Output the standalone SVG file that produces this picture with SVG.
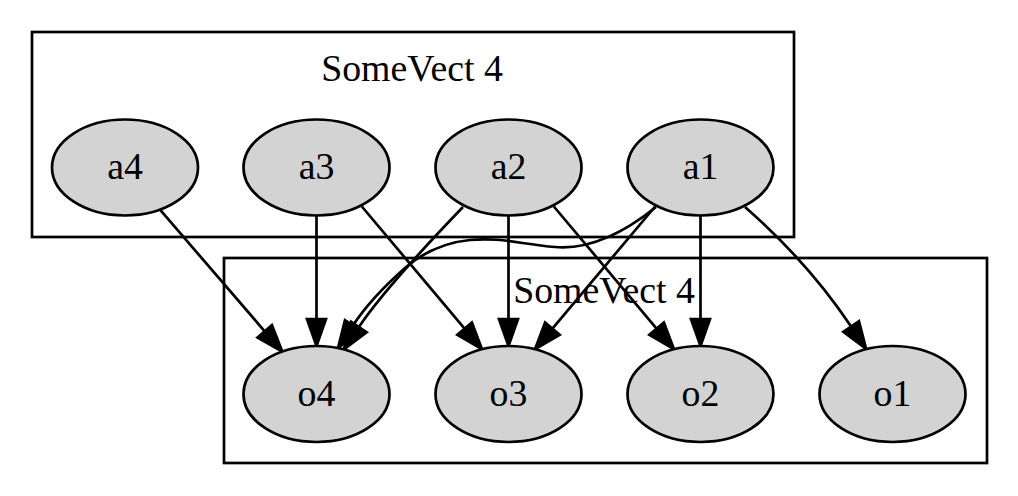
<svg xmlns="http://www.w3.org/2000/svg" width="1018" height="496" viewBox="0 0 1018 496">
<style>
.cluster{fill:none;stroke:#000;stroke-width:2.7}
.node ellipse{fill:#d3d3d3;stroke:#000;stroke-width:2.7}
text{font-family:"Liberation Serif","Times New Roman",serif;font-size:37.8px;fill:#000;text-anchor:middle}
.edge{fill:none;stroke:#000;stroke-width:2.7;marker-end:url(#arrow)}
</style>
<defs>
<marker id="arrow" markerUnits="userSpaceOnUse" viewBox="-2 -2 31 23" markerWidth="31" markerHeight="23" refX="0" refY="9.5" orient="auto">
<path d="M0,0 L27,9.5 L0,19 Z" fill="#000" stroke="#000" stroke-width="2.7"/>
</marker>
</defs>
<rect width="1018" height="496" fill="#fff"/>
<g id="cluster_a">
<rect class="cluster" x="32" y="32" width="762" height="205"/>
<text x="412" y="80.5">SomeVect 4</text>
</g>
<g id="cluster_o">
<rect class="cluster" x="224" y="258" width="763" height="205"/>
<text x="604" y="302.5">SomeVect 4</text>
</g>
<g id="edges">
<path class="edge" d="M160,209.6 L264.7,331.3"/>
<path class="edge" d="M316.5,215.5 L316.5,319"/>
<path class="edge" d="M361,205.5 L464.6,328.6"/>
<path class="edge" d="M463,207 C438,233 385,288 358.9,327"/>
<path class="edge" d="M656,207 C625,232 590,250 555,247 C520,244 500,237 470,240 C440,243 420,255 405,268 C388,283 369.4,300.5 352.9,325.5"/>
<path class="edge" d="M508.5,215.5 L508.5,319"/>
<path class="edge" d="M553,205.5 L656.6,328.6"/>
<path class="edge" d="M656,205.5 L552.4,328.6"/>
<path class="edge" d="M700.5,215.5 L700.5,319"/>
<path class="edge" d="M745,207 C785,242 820,280 851.1,326.5"/>
</g>
<g id="a4" class="node"><ellipse cx="125" cy="167.5" rx="73" ry="48"/><text x="125" y="179">a4</text></g>
<g id="a3" class="node"><ellipse cx="316.5" cy="167.5" rx="73" ry="48"/><text x="316.5" y="179">a3</text></g>
<g id="a2" class="node"><ellipse cx="508.5" cy="167.5" rx="73" ry="48"/><text x="508.5" y="179">a2</text></g>
<g id="a1" class="node"><ellipse cx="700.5" cy="167.5" rx="73" ry="48"/><text x="700.5" y="179">a1</text></g>
<g id="o4" class="node"><ellipse cx="316.5" cy="394" rx="73" ry="48"/><text x="316.5" y="405.5">o4</text></g>
<g id="o3" class="node"><ellipse cx="508.5" cy="394" rx="73" ry="48"/><text x="508.5" y="405.5">o3</text></g>
<g id="o2" class="node"><ellipse cx="700.5" cy="394" rx="73" ry="48"/><text x="700.5" y="405.5">o2</text></g>
<g id="o1" class="node"><ellipse cx="892.5" cy="394" rx="73" ry="48"/><text x="892.5" y="405.5">o1</text></g>
</svg>
